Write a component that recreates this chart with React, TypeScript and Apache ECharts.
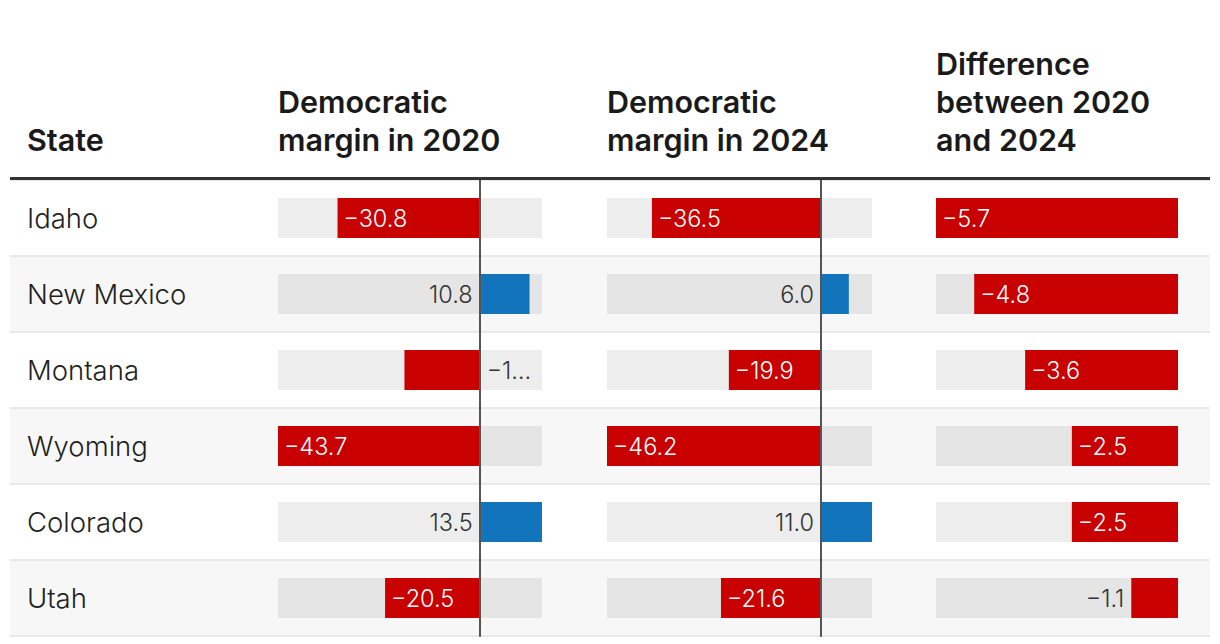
import React, { useEffect, useRef } from "react";
import * as echarts from "echarts";

const states = ["Idaho", "New Mexico", "Montana", "Wyoming", "Colorado", "Utah"];
const margin2020 = [-30.8, 10.8, -16.3, -43.7, 13.5, -20.5];
const margin2024 = [-36.5, 6.0, -19.9, -46.2, 11.0, -21.6];
const difference = [-5.7, -4.8, -3.6, -2.5, -2.5, -1.1];

const headerState = ["State"];
const header2020 = ["Democratic", "margin in 2020"];
const header2024 = ["Democratic", "margin in 2024"];
const headerDiff = ["Difference", "between 2020", "and 2024"];

const FONT = "Inter, 'Noto Sans', sans-serif";
const RED = "#c80000";
const BLUE = "#1275bc";
const TOP = 180;
const ROWS_H = 456;

const fmt = (v: number) => (v < 0 ? "\u2212" : "") + Math.abs(v).toFixed(1);

type Col = { left: number; width: number; values: number[]; zeroLine: boolean };

const columns: Col[] = [
  { left: 278, width: 264, values: margin2020, zeroLine: true },
  { left: 607, width: 265, values: margin2024, zeroLine: true },
  { left: 936, width: 242, values: difference, zeroLine: false },
];

export default function App() {
  const ref = useRef<HTMLDivElement>(null);
  useEffect(() => {
    if (!ref.current) return;
    const chart = echarts.init(ref.current, undefined, { renderer: "svg" });

    const grids: any[] = [
      { left: 10, width: 1200, top: TOP, height: ROWS_H },
    ];
    const xAxes: any[] = [{ gridIndex: 0, type: "value", show: false, min: 0, max: 1 }];
    const yAxes: any[] = [
      {
        gridIndex: 0,
        type: "category",
        data: states,
        inverse: true,
        axisLine: { show: false },
        axisTick: { show: false },
        axisLabel: {
          inside: true,
          margin: 17,
          fontSize: 27.5,
          fontWeight: 300,
          color: "#1f1f1f",
          fontFamily: FONT,
        },
        splitArea: { show: true, areaStyle: { color: ["#ffffff", "#f7f7f7"] } },
        splitLine: { show: true, lineStyle: { color: "#e9e9e9", width: 2 } },
      },
    ];
    const series: any[] = [];

    columns.forEach((c, i) => {
      const gi = i + 1;
      const min = Math.min(0, ...c.values);
      const max = Math.max(0, ...c.values);
      const scale = c.width / (max - min);
      grids.push({ left: c.left, width: c.width, top: TOP, height: ROWS_H });
      xAxes.push({ gridIndex: gi, type: "value", min, max, show: false });
      yAxes.push({
        gridIndex: gi,
        type: "category",
        data: states,
        inverse: true,
        z: 5,
        axisLine: { show: c.zeroLine, onZero: true, lineStyle: { color: "#555", width: 2 } },
        axisTick: { show: false },
        axisLabel: { show: false },
        splitLine: { show: false },
      });
      series.push({
        type: "bar",
        xAxisIndex: gi,
        yAxisIndex: gi,
        barWidth: 40,
        showBackground: true,
        backgroundStyle: { color: "rgba(0,0,0,0.072)" },
        data: c.values.map((v) => {
          const px = Math.abs(v) * scale;
          const inside = v < 0 && px >= 85;
          let label: any;
          if (inside) {
            label = { position: "insideLeft", distance: 6, color: "#ffffff" };
          } else if (v < 0 && max > 0) {
            label = {
              position: "right",
              distance: 7,
              color: "#333",
              width: 48,
              overflow: "truncate",
              ellipsis: "\u2026",
            };
          } else {
            label = { position: "left", distance: 7, color: "#333" };
          }
          return {
            value: v,
            itemStyle: { color: v < 0 ? RED : BLUE },
            label: {
              show: true,
              fontSize: 23.5,
              fontWeight: 300,
              fontFamily: FONT,
              formatter: () => fmt(v),
              ...label,
            },
          };
        }),
      });
    });

    const headerText = (lines: string[], x: number) =>
      lines.map((t, k) => ({
        type: "text",
        x,
        y: 139 - (lines.length - 1 - k) * 38,
        style: {
          text: t,
          fontSize: 30.5,
          fontWeight: 600,
          fontFamily: FONT,
          fill: "#1a1a1a",
          textVerticalAlign: "middle",
          verticalAlign: "middle",
        },
      }));

    chart.setOption({
      animation: false,
      grid: grids,
      xAxis: xAxes,
      yAxis: yAxes,
      series,
      graphic: [
        ...headerText(headerState, 27),
        ...headerText(header2020, 278),
        ...headerText(header2024, 607),
        ...headerText(headerDiff, 936),
        {
          type: "line",
          z: 10,
          shape: { x1: 10, y1: 178.5, x2: 1210, y2: 178.5 },
          style: { stroke: "#333", lineWidth: 3 },
        },
      ],
    });
    return () => chart.dispose();
  }, []);
  return (
    <div
      ref={ref}
      style={{ position: "fixed", left: 0, top: 0, width: 1220, height: 644, background: "#fff" }}
    />
  );
}
